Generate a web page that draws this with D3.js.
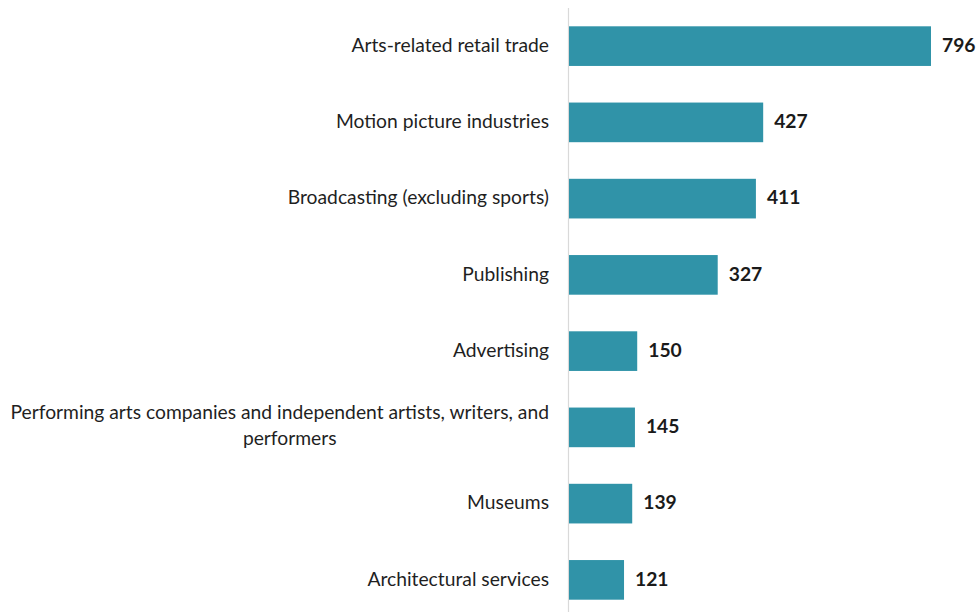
<!DOCTYPE html>
<html><head><meta charset="utf-8">
<script src="https://cdn.jsdelivr.net/npm/d3@7"></script>
<style>body{margin:0;background:#fff}svg{display:block}</style>
</head><body>
<svg id="c" width="978" height="612"></svg>
<script>
const categories = [
  "Arts-related retail trade",
  "Motion picture industries",
  "Broadcasting (excluding sports)",
  "Publishing",
  "Advertising",
  "Performing arts companies and independent artists, writers, and performers",
  "Museums",
  "Architectural services"
];
const values = [796, 427, 411, 327, 150, 145, 139, 121];
const wrapBreaks = {"Performing arts companies and independent artists, writers, and performers":
  ["Performing arts companies and independent artists, writers, and", "performers"]};

const svg = d3.select("#c");
const font = "Lato, 'Open Sans', sans-serif";
const axisX = 568.5;
const x = d3.scaleLinear().domain([0, 796]).range([axisX + 0.5, 931]);
const y = d3.scaleBand().domain(categories).range([8, 618]).paddingInner(0.48).paddingOuter(0.24);

// axis line
svg.append("line").attr("x1", axisX).attr("x2", axisX).attr("y1", 8).attr("y2", 612)
  .attr("stroke", "#d9d9d9").attr("stroke-width", 1.2);

svg.selectAll("rect.bar").data(categories).join("rect").attr("class","bar")
  .attr("x", x(0)).attr("y", (d)=>y(d))
  .attr("width", (d,i)=>x(values[i]) - x(0)).attr("height", y.bandwidth())
  .attr("fill", "#3093a8");

// measure font size so long label fits ~539px
const probe = svg.append("text").attr("font-family", font).attr("font-size", 16)
  .text(wrapBreaks[categories[5]][0]);
const w16 = probe.node().getComputedTextLength();
probe.remove();
const fs = Math.min(20, 16 * 539 / w16);

const labelRight = 549;
categories.forEach((c) => {
  const cy = y(c) + y.bandwidth() / 2 - 1;
  const lines = wrapBreaks[c];
  if (!lines) {
    svg.append("text").attr("x", labelRight).attr("y", cy).attr("dy", "0.35em")
      .attr("text-anchor", "end").attr("font-family", font).attr("font-size", fs)
      .attr("fill", "#1f1f1f").text(c);
  } else {
    const t = svg.append("text").attr("font-family", font).attr("font-size", fs)
      .attr("fill", "#1f1f1f").attr("text-anchor", "middle");
    const t1 = t.append("tspan").text(lines[0]);
    const w = t1.node().getComputedTextLength();
    const mid = labelRight - w / 2;
    const lh = 26;
    t1.attr("x", mid).attr("y", cy - lh / 2 - 1).attr("dy", "0.35em");
    t.append("tspan").attr("x", mid + 10).attr("y", cy + lh / 2 - 1).attr("dy", "0.35em").text(lines[1]);
  }
});

svg.selectAll("text.val").data(categories).join("text").attr("class","val")
  .attr("x", (d,i)=>x(values[i]) + 11).attr("y", (d)=>y(d) + y.bandwidth()/2 - 1).attr("dy","0.35em")
  .attr("font-family", font).attr("font-size", fs).attr("font-weight", "bold")
  .attr("fill", "#1a1a1a").text((d,i)=>values[i]);
</script>
</body></html>
